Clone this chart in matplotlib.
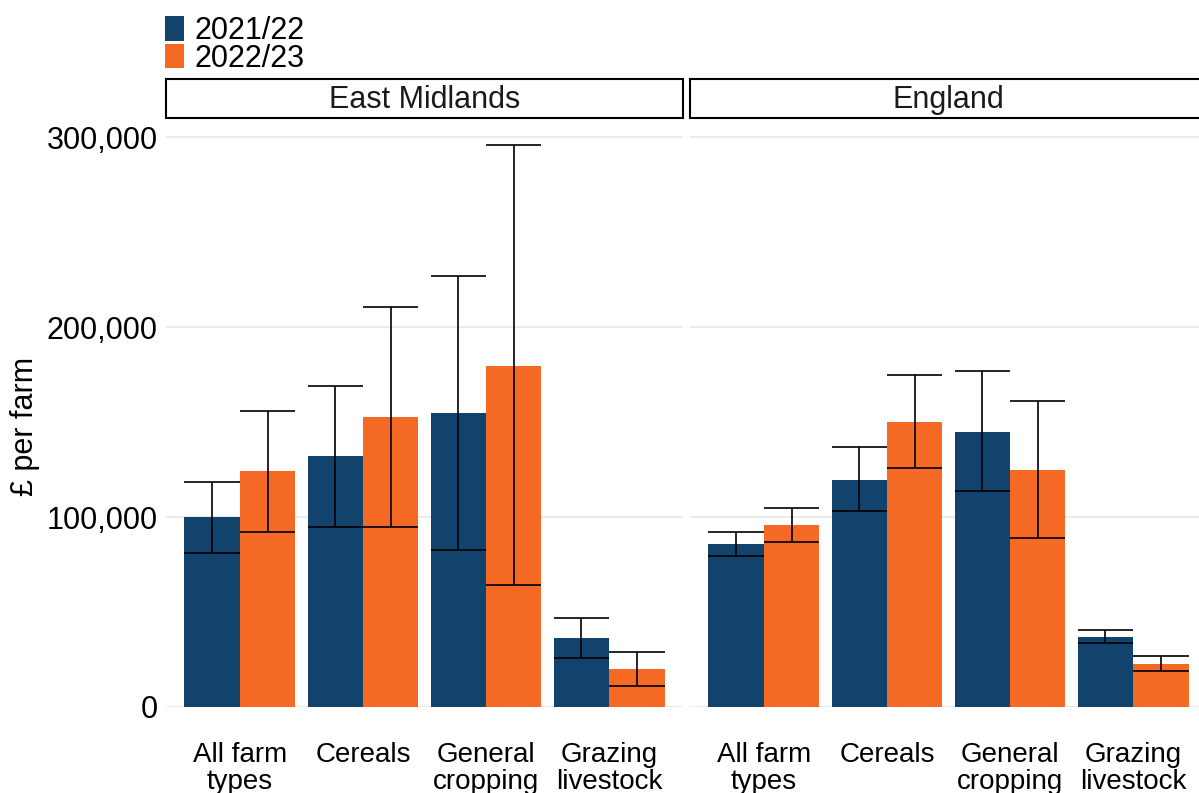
import numpy as np
import matplotlib.pyplot as plt
from matplotlib.patches import Patch, Rectangle

plt.rcParams["font.family"] = ["Liberation Sans", "DejaVu Sans"]

regions = ["East Midlands", "England"]
farm_types = ["All farm\ntypes", "Cereals", "General\ncropping", "Grazing\nlivestock"]
years = ["2021/22", "2022/23"]
colors = ["#12436D", "#F46A25"]

# mean value per farm (£), one list per region per year
em_2122 = [100000, 132000, 154500, 36300]
em_2223 = [124200, 152800, 179600, 20000]
en_2122 = [86000, 119600, 145000, 36900]
en_2223 = [96000, 150200, 124800, 22600]

# confidence interval bounds
em_2122_lo = [80800, 95000, 82500, 25800]
em_2122_hi = [118300, 169000, 226800, 46800]
em_2223_lo = [92100, 95000, 64100, 11300]
em_2223_hi = [156000, 210700, 295800, 29200]
en_2122_lo = [79400, 103200, 113900, 33500]
en_2122_hi = [92300, 136700, 176600, 40500]
en_2223_lo = [86900, 125600, 89100, 18800]
en_2223_hi = [105000, 175000, 160900, 26800]

panels = {
    "East Midlands": [(em_2122, em_2122_lo, em_2122_hi), (em_2223, em_2223_lo, em_2223_hi)],
    "England": [(en_2122, en_2122_lo, en_2122_hi), (en_2223, en_2223_lo, en_2223_hi)],
}

W, H = 1199, 793
fig = plt.figure(figsize=(W / 100, H / 100), dpi=100)

top, bottom = 118, 707
panel_w = 517
lefts = [166, 690]
bw = 0.45

for i, region in enumerate(regions):
    ax = fig.add_axes([lefts[i] / W, 1 - bottom / H, panel_w / W, (bottom - top) / H])
    x = np.arange(len(farm_types))
    for j, (vals, lo, hi) in enumerate(panels[region]):
        xs = x + (j - 0.5) * bw
        ax.bar(xs, vals, width=bw, color=colors[j], zorder=2)
        ax.vlines(xs, lo, hi, color="black", lw=1.2, zorder=3)
        ax.hlines(lo, xs - bw / 2, xs + bw / 2, color="black", lw=1.2, zorder=3)
        ax.hlines(hi, xs - bw / 2, xs + bw / 2, color="black", lw=1.2, zorder=3)
    ax.set_xlim(-0.6, len(farm_types) - 0.4)
    ax.set_ylim(0, 310000)
    ax.set_yticks([0, 100000, 200000, 300000])
    ax.grid(axis="y", color="#ebebeb", lw=1.5, zorder=0)
    ax.set_axisbelow(True)
    for s in ax.spines.values():
        s.set_visible(False)
    ax.set_xticks(x)
    ax.set_xticklabels(farm_types, fontsize=20, linespacing=1.08)
    ax.tick_params(axis="x", length=0, pad=25)
    ax.tick_params(axis="y", length=0, pad=6, labelsize=22)
    if i == 0:
        ax.set_yticklabels([f"{v:,}" for v in [0, 100000, 200000, 300000]])
        ax.set_ylabel("£ per farm", fontsize=22)
        ax.yaxis.label.set_va("center")
        ax.yaxis.set_label_coords((25 - lefts[0]) / panel_w, (bottom - 426) / (bottom - top))
    else:
        ax.set_yticklabels([])
    # facet strip
    sh = 39 / (bottom - top)
    ax.add_patch(Rectangle((0, 1.0), 1, sh, transform=ax.transAxes, clip_on=False,
                           facecolor="white", edgecolor="black", lw=1.5))
    ax.text(0.5, 1 + sh / 2 - 0.003, region, transform=ax.transAxes, ha="center", va="center",
            fontsize=22, color="#1a1a1a")

handles = [Patch(facecolor=c, edgecolor="none") for c in colors]
fig.legend(handles, years, loc="upper left", bbox_to_anchor=(165 / W, 1 - 16 / H),
           frameon=False, fontsize=22, handlelength=0.62, handleheight=0.85,
           labelspacing=-0.07, handletextpad=0.35, borderpad=0, borderaxespad=0)

fig.savefig("out.png", dpi=100, facecolor="white")
